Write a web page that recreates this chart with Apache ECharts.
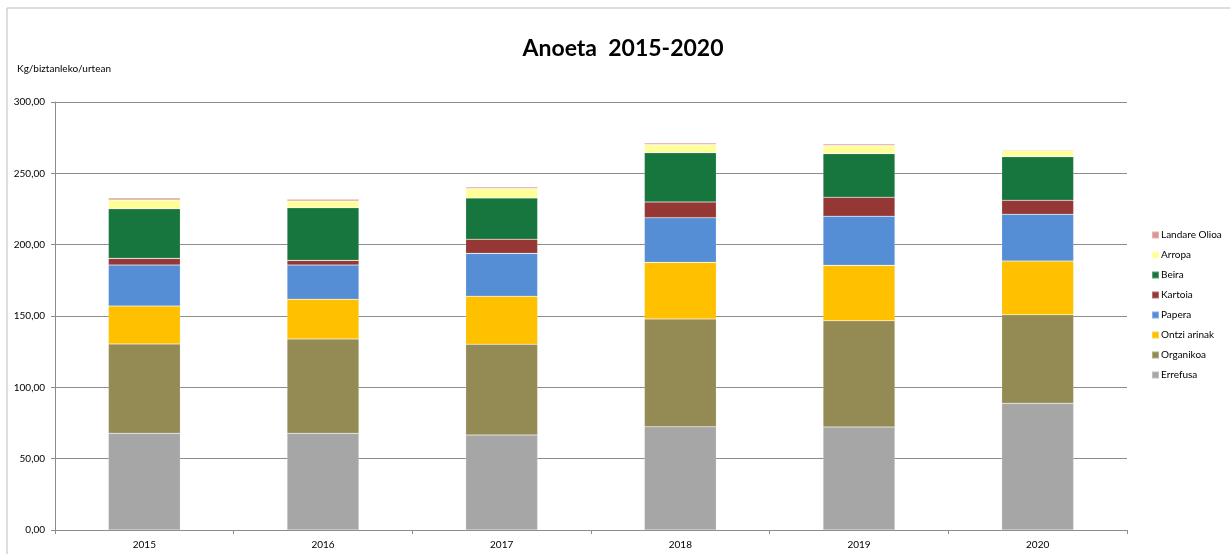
<!DOCTYPE html>
<html>
<head>
<meta charset="utf-8">
<script src="https://cdn.jsdelivr.net/npm/echarts@6/dist/echarts.min.js"></script>
<style>
html,body{margin:0;padding:0;background:#fff;}
#c{width:1230px;height:554px;}
</style>
</head>
<body>
<div id="c"></div>
<script>
const years = ['2015','2016','2017','2018','2019','2020'];
const errefusa = [67.8, 67.8, 66.6, 72.4, 72.2, 88.8];
const organikoa = [62.6, 66.1, 63.6, 75.5, 74.5, 62.1];
const ontziArinak = [26.6, 27.8, 33.6, 39.7, 38.8, 37.6];
const papera = [28.7, 24.0, 30.1, 31.3, 34.4, 32.8];
const kartoia = [4.7, 3.3, 9.9, 11.0, 13.3, 9.8];
const beira = [34.8, 36.9, 28.9, 34.6, 30.6, 30.6];
const arropa = [6.1, 4.7, 6.6, 5.6, 5.6, 4.2];
const landareOlioa = [1.4, 1.2, 1.1, 1.2, 1.2, 0.7];
const yTicks = [0, 50, 100, 150, 200, 250, 300];

const seriesDefs = [
  ['Errefusa', errefusa, '#A6A6A6'],
  ['Organikoa', organikoa, '#948A54'],
  ['Ontzi arinak', ontziArinak, '#FFC000'],
  ['Papera', papera, '#558ED5'],
  ['Kartoia', kartoia, '#953735'],
  ['Beira', beira, '#17763D'],
  ['Arropa', arropa, '#FFFF99'],
  ['Landare Olioa', landareOlioa, '#D99694']
];
const font = 'Lato, "Liberation Sans", sans-serif';
const chart = echarts.init(document.getElementById('c'), null, {renderer:'canvas'});
chart.setOption({
  animation: false,
  backgroundColor: '#fff',
  textStyle: {fontFamily: font},
  title: {
    text: 'Anoeta  2015-2020',
    left: 618, top: 32, textAlign: 'center',
    textStyle: {fontFamily: font, fontWeight: 'bold', fontSize: 23, color: '#000'}
  },
  graphic: [{
    type: 'rect', shape: {x: 7, y: 8, width: 1300, height: 700},
    style: {fill: 'none', stroke: '#bdbdbd', lineWidth: 1}, silent: true
  }],
  legend: {
    orient: 'vertical', left: 1146, top: 225, itemGap: 10,
    itemWidth: 7, itemHeight: 7, icon: 'rect',
    data: seriesDefs.map(d => d[0]).reverse(),
    textStyle: {fontFamily: font, fontSize: 10, color: '#000', padding: [0,0,0,-3]}
  },
  grid: {left: 55, right: 103, top: 102, bottom: 24},
  xAxis: {
    type: 'category', data: years,
    axisLine: {lineStyle: {color: '#8c8c8c'}},
    axisTick: {show: true, lineStyle: {color: '#8c8c8c'}, length: 4},
    axisLabel: {color: '#000', fontSize: 10, fontFamily: font, margin: 10}
  },
  yAxis: {
    type: 'value', min: yTicks[0], max: yTicks[yTicks.length-1], interval: 50,
    name: 'Kg/biztanleko/urtean', nameLocation: 'end', nameGap: 28,
    nameTextStyle: {color: '#000', fontSize: 10, fontFamily: font, align: 'left', padding: [0,0,0,-38]},
    axisLine: {show: true, lineStyle: {color: '#8c8c8c'}},
    axisTick: {show: true, length: 4, lineStyle: {color: '#8c8c8c'}},
    axisLabel: {color: '#000', fontSize: 10, fontFamily: font, margin: 10,
      formatter: v => v.toFixed(2).replace('.', ',')},
    splitLine: {lineStyle: {color: '#8c8c8c'}}
  },
  series: seriesDefs.map(d => ({
    name: d[0], type: 'bar', stack: 'total', data: d[1], barWidth: 72,
    itemStyle: {color: d[2], borderColor: 'rgba(255,255,255,0.3)', borderWidth: 0.6}
  }))
});
</script>
</body>
</html>
